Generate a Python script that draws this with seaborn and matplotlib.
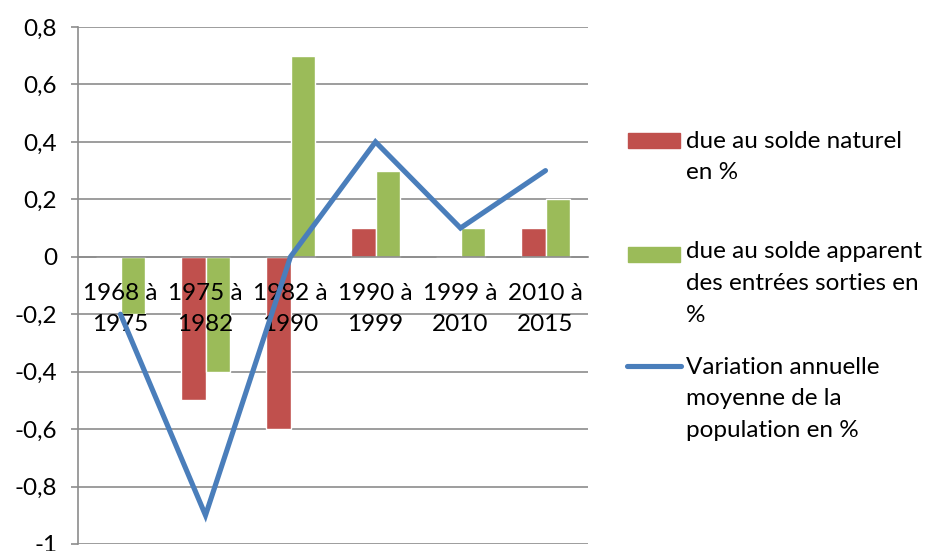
import numpy as np
import pandas as pd
import matplotlib.pyplot as plt
import seaborn as sns
from matplotlib.patches import Rectangle
from matplotlib.lines import Line2D

# Données
periodes = ["1968 à\n1975", "1975 à\n1982", "1982 à\n1990",
            "1990 à\n1999", "1999 à\n2010", "2010 à\n2015"]
solde_naturel = [0.0, -0.5, -0.6, 0.1, 0.0, 0.1]
solde_apparent = [-0.2, -0.4, 0.7, 0.3, 0.1, 0.2]
variation = [-0.2, -0.9, 0.0, 0.4, 0.1, 0.3]

noms = ["due au solde naturel\nen %",
        "due au solde apparent\ndes entrées sorties en\n%",
        "Variation annuelle\nmoyenne de la\npopulation en %"]
couleurs = ["#C0504D", "#9BBB59", "#4A7EBB"]

y_ticks = [-1, -0.8, -0.6, -0.4, -0.2, 0, 0.2, 0.4, 0.6, 0.8]
y_labels = ["-1", "-0,8", "-0,6", "-0,4", "-0,2", "0", "0,2", "0,4", "0,6", "0,8"]

sns.set_theme(style="white")
plt.rcParams["font.family"] = ["Lato", "DejaVu Sans"]
gris = "#8C8C8C"
taille = 17.5

df = pd.DataFrame({
    "periode": periodes * 2,
    "valeur": solde_naturel + solde_apparent,
    "serie": [noms[0]] * 6 + [noms[1]] * 6,
})

W, H = 932, 551
fig = plt.figure(figsize=(W / 100, H / 100), dpi=100)
ax = fig.add_axes([78 / W, 1 - 544 / H, 510 / W, 517 / H])

sns.barplot(data=df, x="periode", y="valeur", hue="serie", palette=couleurs[:2],
            width=0.565, saturation=1, errorbar=None, legend=False, ax=ax, zorder=2)
sns.lineplot(x=np.arange(len(variation)), y=variation, color=couleurs[2], linewidth=3.7,
             ax=ax, zorder=3, solid_capstyle="round", solid_joinstyle="miter")

ax.set_xlim(-0.5, 5.5)
ax.set_ylim(-1, 0.8)
ax.set_xlabel("")
ax.set_ylabel("")

ax.set_yticks(y_ticks)
ax.set_yticklabels(y_labels)
ax.yaxis.grid(True, color=gris, linewidth=1.2)
ax.set_axisbelow(True)
ax.xaxis.set_zorder(2.6)

for s in ["top", "right"]:
    ax.spines[s].set_visible(False)
ax.spines["left"].set_color(gris)
ax.spines["left"].set_linewidth(1.2)
ax.spines["bottom"].set_color(gris)
ax.spines["bottom"].set_linewidth(1.2)
ax.spines["bottom"].set_position(("data", 0))

ax.set_xticks(np.arange(len(periodes)))
ax.set_xticklabels(periodes, linespacing=1.55)
ax.set_xticks(np.arange(-0.5, len(periodes)), minor=True)
ax.tick_params(axis="x", which="major", length=0, pad=19, labelsize=taille, colors="black")
ax.tick_params(axis="x", which="minor", length=5, width=1.2, color=gris, direction="out")
ax.tick_params(axis="y", which="major", length=5, width=1.2, color=gris, direction="out",
               pad=10, labelsize=taille, labelcolor="black", left=True)

# Légende dessinée à droite
fig.add_artist(Rectangle((628 / W, 1 - 148 / H), 52 / W, 15 / H,
                         transform=fig.transFigure, color=couleurs[0]))
fig.add_artist(Rectangle((628 / W, 1 - 262 / H), 52 / W, 15 / H,
                         transform=fig.transFigure, color=couleurs[1]))
fig.add_artist(Line2D([627 / W, 681 / W], [1 - 366 / H] * 2, transform=fig.transFigure,
                      color=couleurs[2], linewidth=3.7, solid_capstyle="round"))
for nom, yb in zip(noms, [148, 259, 374]):
    fig.text(686 / W, 1 - (yb - 17.5) / H, nom, va="top", ha="left", fontsize=taille,
             linespacing=1.62, color="black")

fig.savefig("out.png", dpi=100)
